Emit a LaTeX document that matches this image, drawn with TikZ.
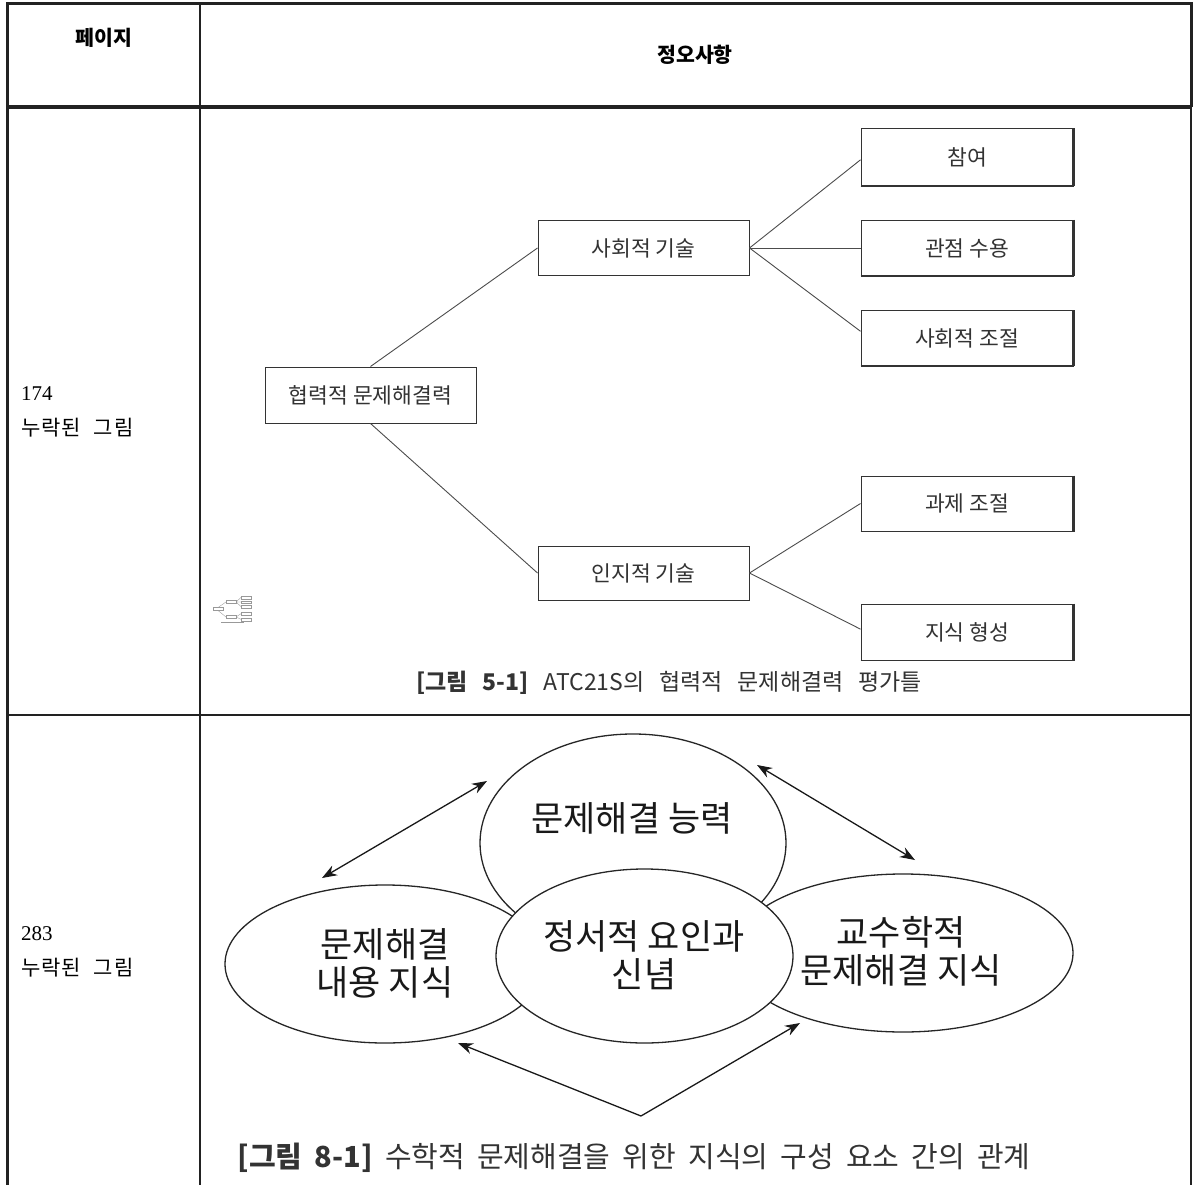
\documentclass[tikz,border=0pt]{standalone}
\usepackage{fontspec}
\setmainfont{Noto Sans CJK KR}
\newfontfamily\numserif{Liberation Serif}
\usetikzlibrary{shapes.geometric,arrows.meta,calc}
\definecolor{ink}{HTML}{333333}
\definecolor{rule}{HTML}{222222}
\tikzset{
  treebox/.style={draw=ink, line width=1pt, minimum width=211pt, minimum height=55pt,
    inner sep=0pt, font=\fontsize{21.5}{25}\selectfont, text=ink},
  treeline/.style={draw=black!70, line width=0.9pt},
  bubble/.style={ellipse, draw=black!85, line width=1.3pt, fill=white, inner sep=0pt},
  bubbletext/.style={font=\fontsize{35}{41}\selectfont, align=center, text=black!90},
  dblarrow/.style={line width=1.3pt, draw=black!90, {Stealth[length=15pt,width=11pt]}-{Stealth[length=15pt,width=11pt]}},
  onearrow/.style={line width=1.3pt, draw=black!90, -{Stealth[length=15pt,width=11pt]}},
  headtext/.style={font=\fontsize{20.5}{24}\selectfont\bfseries},
  coltext/.style={font=\fontsize{21}{25}\selectfont, anchor=west, inner sep=0pt},
  mini/.style={draw=black!40, line width=0.35pt}
}
\begin{document}
\begin{tikzpicture}[x=1pt,y=-1pt]
\useasboundingbox (0,0) rectangle (1194,1185);
\fill[white] (0,0) rectangle (1194,1185);

% ---------- table rules ----------
\draw[rule, line width=3pt] (7,1185) -- (7,3.5) -- (1191,3.5) -- (1191,107);
\draw[rule, line width=4pt] (7,107) -- (1192,107);
\draw[rule, line width=1.6pt] (1191,107) -- (1191,1185);
\draw[rule, line width=1.6pt] (200,3) -- (200,1185);
\draw[rule, line width=1.4pt] (7,715) -- (1191,715);

% ---------- header ----------
\node[headtext] (h1) at (104,38) {페이지};
\node[headtext] (h2) at (695,55) {정오사항};

% ---------- left column ----------
\node[coltext] (p1) at (21,394) {\numserif 174};
\node[coltext] (m1) at (21,428) {누\kern1pt 락\kern1pt 된\hspace{8pt} 그\kern1pt 림};
\node[coltext] (p2) at (21,934) {\numserif 283};
\node[coltext] (m2) at (21,968) {누\kern1pt 락\kern1pt 된\hspace{8pt} 그\kern1pt 림};

% ---------- figure 5-1 ----------
\node[treebox, minimum height=56pt] (root) at (370.5,395) {협력적 문제해결력};
\node[treebox, minimum height=54pt] (soc) at (643.5,248) {사회적 기술};
\node[treebox, minimum height=54pt] (cog) at (643.5,573) {인지적 기술};
\node[treebox, minimum width=212pt, minimum height=57pt] (r1) at (967,157.5) {참여};
\node[treebox, minimum width=212pt] (r2) at (967,248) {관점 수용};
\node[treebox, minimum width=212pt] (r3) at (967,338) {사회적 조절};
\node[treebox, minimum width=212pt] (r4) at (967,503.5) {과제 조절};
\node[treebox, minimum width=212pt, minimum height=56pt] (r5) at (967,632) {지식 형성};
\foreach \b in {r1,r2,r3,r4,r5}{
  \draw[ink, line width=2.6pt] (\b.north east) -- (\b.south east);
  \draw[ink, line width=1.6pt] (\b.south west) -- (\b.south east);
}
\draw[treeline] (root.north) -- (soc.west);
\draw[treeline] (root.south) -- (cog.west);
\draw[treeline] (soc.east) -- ($(r1.north west)!0.54!(r1.south west)$);
\draw[treeline] (soc.east) -- (r2.west);
\draw[treeline] (soc.east) -- ($(r3.north west)!0.38!(r3.south west)$);
\draw[treeline] (cog.east) -- (r4.west);
\draw[treeline] (cog.east) -- ($(r5.north west)!0.45!(r5.south west)$);

\node[text=ink, inner sep=0pt] (cap1) at (669,683)
  {\fontsize{23}{27}\selectfont\makebox[506pt][s]{\textbf{[그림 5-1]} ATC21S의 협력적 문제해결력 평가틀}};

% tiny thumbnail
\draw[mini] (213,607.5) rectangle (223,610.5);
\draw[mini] (226,600.5) rectangle (236,603.5);
\draw[mini] (226,615.5) rectangle (236,618.5);
\draw[mini] (241,596) rectangle (251,599);
\draw[mini] (241,600.7) rectangle (251,603.5);
\draw[mini] (241,605) rectangle (251,608);
\draw[mini] (241,612.3) rectangle (251,615);
\draw[mini] (241,618) rectangle (251,620.7);
\draw[mini] (218,607.5) -- (226,602);
\draw[mini] (218,610.5) -- (226,617);
\draw[mini] (236,602) -- (241,597.5) (236,602) -- (241,602) (236,602) -- (241,606.5);
\draw[mini] (236,617) -- (241,613.7) (236,617) -- (241,619.3);
\draw[mini] (221,621.7) -- (244,621.7);

% ---------- figure 8-1 ----------
\node[bubble, minimum width=306pt, minimum height=218pt] (top) at (633,843) {};
\node[bubble, minimum width=320pt, minimum height=158pt] (left) at (385,964) {};
\node[bubble, minimum width=340pt, minimum height=158pt] (right) at (903,953) {};
\node[bubble, minimum width=297pt, minimum height=174pt] (mid) at (644.5,956) {};

\node[bubbletext] (ttop) at (632,818) {문제해결 능력};
\node[bubbletext] (tleft) at (385,963) {문제해결\\[-3pt]내용 지식};
\node[bubbletext] (tright) at (901,951) {교수학적\\[-3pt]문제해결 지식};
\node[bubbletext] (tmid) at (644,955) {정서적 요인과\\[-3pt]신념};

\coordinate (a1s) at (322,878);
\coordinate (a1e) at (487,781);
\coordinate (a2s) at (757,765);
\coordinate (a2e) at (915,860);
\coordinate (apex) at (641,1116);
\coordinate (bl) at (458,1043);
\coordinate (br) at (800,1023);
\draw[dblarrow] (a1s) -- (a1e);
\draw[dblarrow] (a2s) -- (a2e);
\draw[onearrow] (apex) -- (bl);
\draw[onearrow] (apex) -- (br);

\node[text=ink, inner sep=0pt] (cap2) at (634,1158)
  {\fontsize{29}{33}\selectfont\makebox[793pt][s]{\textbf{[그림 8-1]} 수학적 문제해결을 위한 지식의 구성 요소 간의 관계}};
\end{tikzpicture}
\end{document}
